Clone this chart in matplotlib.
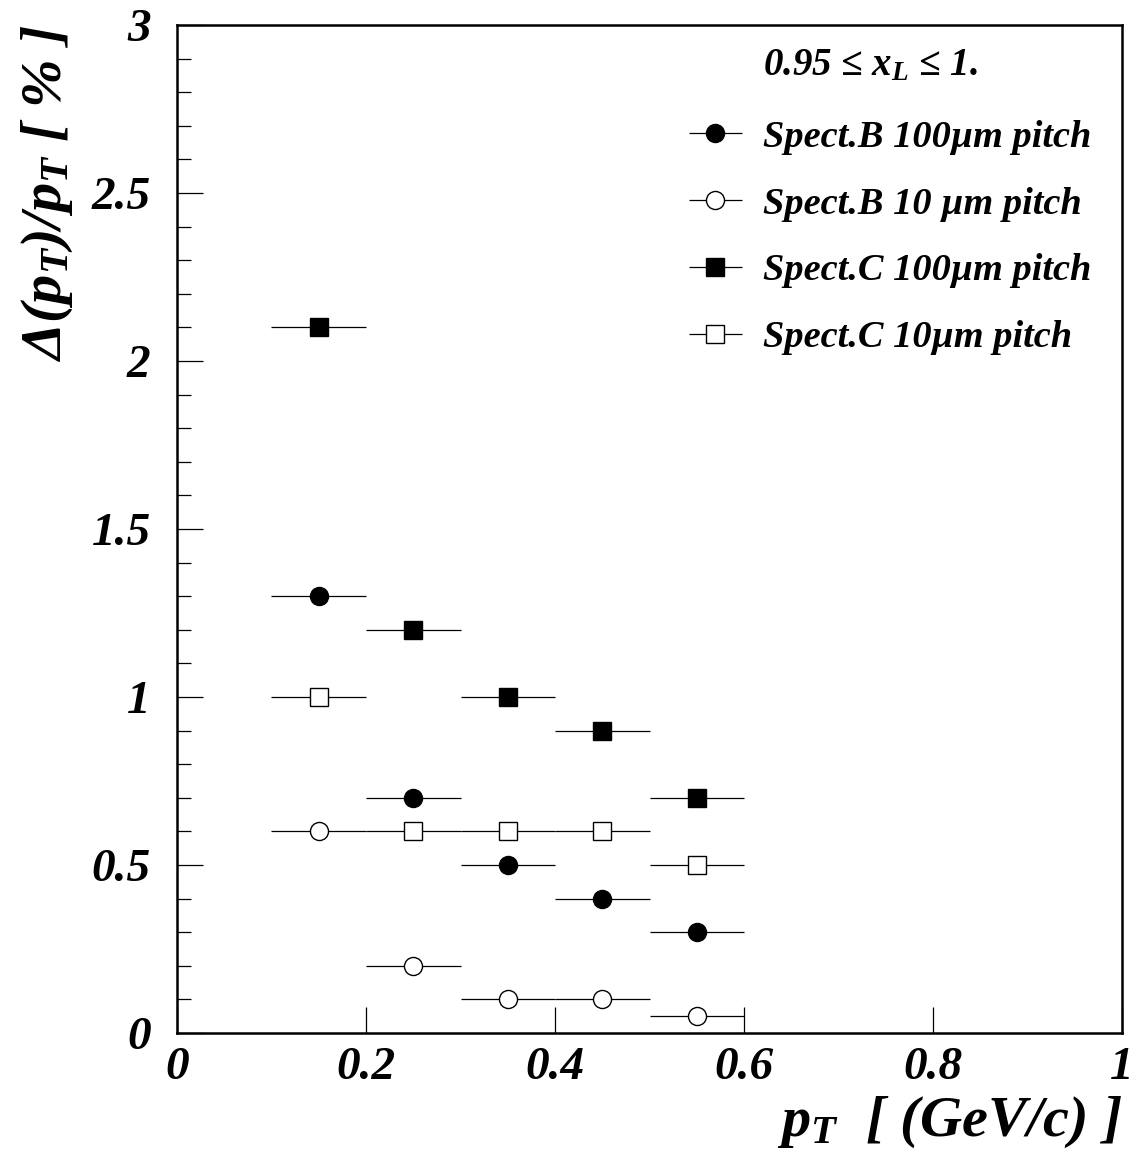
import matplotlib.pyplot as plt
from matplotlib.ticker import MultipleLocator, FixedLocator
from matplotlib.legend_handler import HandlerErrorbar

plt.rcParams['font.family'] = ['Liberation Serif', 'DejaVu Serif']
plt.rcParams['font.weight'] = 'bold'
plt.rcParams['font.style'] = 'italic'
plt.rcParams['axes.labelweight'] = 'bold'
plt.rcParams['mathtext.fontset'] = 'custom'
plt.rcParams['mathtext.it'] = 'Liberation Serif:bold:italic'
plt.rcParams['mathtext.rm'] = 'Liberation Serif:bold'
plt.rcParams['mathtext.bf'] = 'Liberation Serif:bold:italic'

# pT bin centres and half-widths
pt = [0.15, 0.25, 0.35, 0.45, 0.55]
pt_err = [0.05, 0.05, 0.05, 0.05, 0.05]

# relative pT resolution in %
specB_100 = [1.3, 0.7, 0.5, 0.4, 0.3]
specB_10 = [0.6, 0.2, 0.1, 0.1, 0.05]
specC_100 = [2.1, 1.2, 1.0, 0.9, 0.7]
specC_10 = [1.0, 0.6, 0.6, 0.6, 0.5]

labels = ['Spect.B 100µm pitch', 'Spect.B 10 µm pitch',
          'Spect.C 100µm pitch', 'Spect.C 10µm pitch']

fig = plt.figure(figsize=(11.36, 11.68), dpi=100)
ax = fig.add_axes([177/1136, 1 - 1033/1168, (1122-177)/1136, (1033-25)/1168])

styles = [('o', 'black'), ('o', 'white'), ('s', 'black'), ('s', 'white')]
handles = []
for y, (m, fc), lab in zip([specB_100, specB_10, specC_100, specC_10], styles, labels):
    h = ax.errorbar(pt, y, xerr=pt_err, fmt=m, ms=13, mfc=fc, mec='black',
                    mew=1.0, ecolor='black', elinewidth=0.9, capsize=0,
                    label=lab, zorder=3)
    handles.append(h)

ax.set_xlim(0, 1)
ax.set_ylim(0, 3)

ax.xaxis.set_major_locator(FixedLocator([0, 0.2, 0.4, 0.6, 0.8, 1]))
ax.set_xticklabels(['0', '0.2', '0.4', '0.6', '0.8', '1'])
ax.set_yticks([0, 0.5, 1, 1.5, 2, 2.5, 3])
ax.set_yticklabels(['0', '0.5', '1', '1.5', '2', '2.5', '3'])
ax.yaxis.set_minor_locator(MultipleLocator(0.1))

ax.tick_params(axis='both', which='major', direction='in', length=19, width=0.9,
               labelsize=34, top=False, right=False)
ax.tick_params(axis='y', which='minor', direction='in', length=10, width=0.9)
ax.tick_params(axis='y', which='major', pad=19)
ax.tick_params(axis='x', which='major', pad=10)
for s in ax.spines.values():
    s.set_linewidth(1.8)

ax.set_xlabel(r'$p_T$  [ (GeV/c) ]', fontsize=42, loc='right', labelpad=4)
ax.set_ylabel(r'$\Delta(p_T)/p_T$ [ % ]', fontsize=42, loc='top', labelpad=12)

ax.text(0.620, 0.960, '0.95 ≤ $x_L$ ≤ 1.', transform=ax.transAxes,
        fontsize=28, ha='left', va='center')

ax.legend(handles=handles, loc='upper left', bbox_to_anchor=(0.5407, 0.906),
          frameon=False, fontsize=27.6, handlelength=1.43, handletextpad=0.52,
          labelspacing=0.83, borderpad=0, borderaxespad=0,
          handler_map={h: HandlerErrorbar(xerr_size=0.7) for h in handles})

fig.savefig('out.png', dpi=100)
